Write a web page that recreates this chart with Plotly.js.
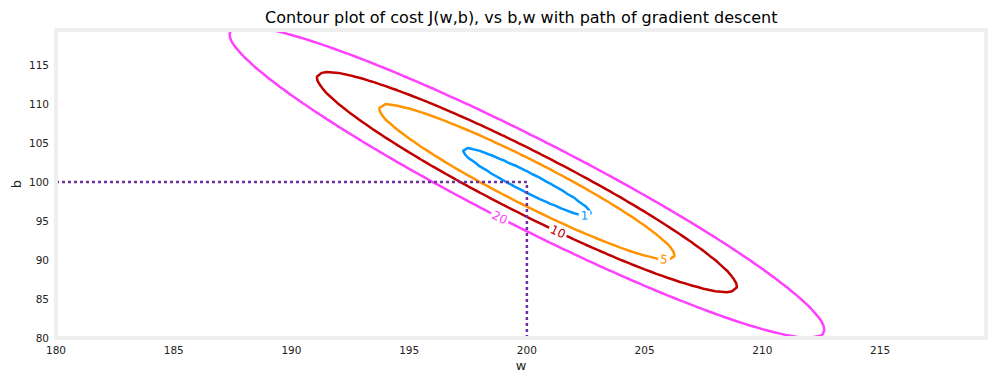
<!DOCTYPE html>
<html>
<head>
<meta charset="utf-8">
<script src="https://cdn.plot.ly/plotly-3.0.1.min.js"></script>
<style>html,body{margin:0;padding:0;background:#fff;}#chart{width:995px;height:382px;}</style>
</head>
<body>
<div id="chart"></div>
<script>
// Training data that defines the cost surface J(w,b)
const x_train = [1.0, 2.0];
const y_train = [300.0, 500.0];
// Grid ranges [start, stop, step]
const w_range = [180, 220, 0.5];
const b_range = [80, 120, 0.5];
// Contour levels and their colours
const levels = [1, 5, 10, 20];
const levelColors = ['#0096FF', '#FF9300', '#C00000', '#FF40FF'];
// Final parameters (end of gradient descent path)
const w_final = 200;
const b_final = 100;
const xTicks = [180, 185, 190, 195, 200, 205, 210, 215];
const yTicks = [80, 85, 90, 95, 100, 105, 110, 115];

function arange(a, b, s) { const r = []; for (let i = 0; a + i * s < b - 1e-9; i++) r.push(a + i * s); return r; }
function cost(w, b) {
  let s = 0;
  for (let i = 0; i < x_train.length; i++) { const e = w * x_train[i] + b - y_train[i]; s += e * e; }
  return s / (2 * x_train.length);
}
const W = arange(...w_range);
const B = arange(...b_range);
const Z = B.map(b => W.map(w => cost(w, b)));

const traces = levels.map((L, k) => ({
  type: 'contour', x: W, y: B, z: Z, showscale: false, hoverinfo: 'skip',
  contours: { coloring: 'none', start: L, end: L, size: 1, showlabels: true,
    labelfont: { color: levelColors[k], size: 12, family: 'DejaVu Sans' } },
  line: { color: levelColors[k], width: 2.5, smoothing: 0 }
}));
const xlim0 = w_range[0], ylim0 = b_range[0];
traces.push({ type: 'scatter', mode: 'lines', x: [xlim0, w_final], y: [b_final, b_final],
  line: { color: '#7030A0', width: 2.5, dash: 'dot' }, hoverinfo: 'skip', showlegend: false });
traces.push({ type: 'scatter', mode: 'lines', x: [w_final, w_final], y: [ylim0, b_final],
  line: { color: '#7030A0', width: 2.5, dash: 'dot' }, hoverinfo: 'skip', showlegend: false });

const layout = {
  width: 995, height: 382,
  margin: { l: 56, r: 9, t: 30, b: 44 },
  paper_bgcolor: '#fff', plot_bgcolor: '#fff',
  showlegend: false,
  font: { family: 'DejaVu Sans', size: 10, color: '#222' },
  title: { text: 'Contour plot of cost J(w,b), vs b,w with path of gradient descent',
    font: { size: 16, color: '#000' }, x: 0.5239, xanchor: 'center', y: 0.955, yanchor: 'middle' },
  xaxis: { range: [180, 219.5], tickvals: xTicks, ticktext: xTicks.map(String), showgrid: false, zeroline: false,
    ticks: '', ticklabelstandoff: 4, tickfont: { size: 10.5 },
    title: { text: 'w', font: { size: 13 }, standoff: 6 } },
  yaxis: { range: [80, 119.5], tickvals: yTicks, ticktext: yTicks.map(String), showgrid: false, zeroline: false,
    ticks: '', ticklabelstandoff: 6, tickfont: { size: 10.5 },
    title: { text: 'b', font: { size: 13 }, standoff: 4 } },
  shapes: [{ type: 'rect', xref: 'paper', yref: 'paper', x0: 0, x1: 1, y0: 0, y1: 1,
    line: { color: '#EFEFEF', width: 4 }, layer: 'above' }]
};
Plotly.newPlot('chart', traces, layout, { staticPlot: true, displayModeBar: false });
</script>
</body>
</html>
